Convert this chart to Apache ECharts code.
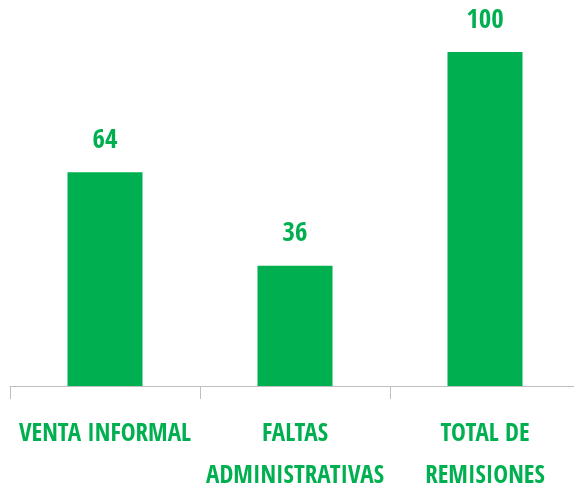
<!DOCTYPE html>
<html>
<head>
<meta charset="utf-8">
<script src="https://cdn.jsdelivr.net/npm/echarts@6/dist/echarts.min.js"></script>
<style>
  html, body { margin: 0; padding: 0; background: #fff; }
  #chart { width: 574px; height: 492px; }
</style>
</head>
<body>
<div id="chart"></div>
<script>
const categories = ['VENTA INFORMAL', 'FALTAS\nADMINISTRATIVAS', 'TOTAL DE\nREMISIONES']
const values = [64, 36, 100]

const green = '#00B050'
const font = '"Open Sans Condensed", "Roboto Condensed", sans-serif'

const chart = echarts.init(document.getElementById('chart'))
chart.setOption({
    animation: false,
    grid: {left: 10, top: 52, width: 570, height: 334, outerBoundsMode: 'none', containLabel: false},
    xAxis: {
        type: 'category',
        data: categories,
        axisLine: {lineStyle: {color: '#bfbfbf', width: 1}},
        axisTick: {show: true, length: 13, lineStyle: {color: '#bfbfbf'}},
        axisLabel: {
            color: green,
            fontFamily: font,
            fontWeight: 'bold',
            fontSize: 25,
            lineHeight: 42,
            margin: 27,
            interval: 0
        }
    },
    yAxis: {
        type: 'value',
        min: 0,
        max: 100,
        show: false,
        splitLine: {show: false}
    },
    series: [{
        type: 'bar',
        data: values,
        barWidth: 75,
        itemStyle: {color: green},
        label: {
            show: true,
            position: 'top',
            distance: 18,
            color: green,
            fontFamily: font,
            fontWeight: 'bold',
            fontSize: 27
        }
    }]
})
</script>
</body>
</html>
